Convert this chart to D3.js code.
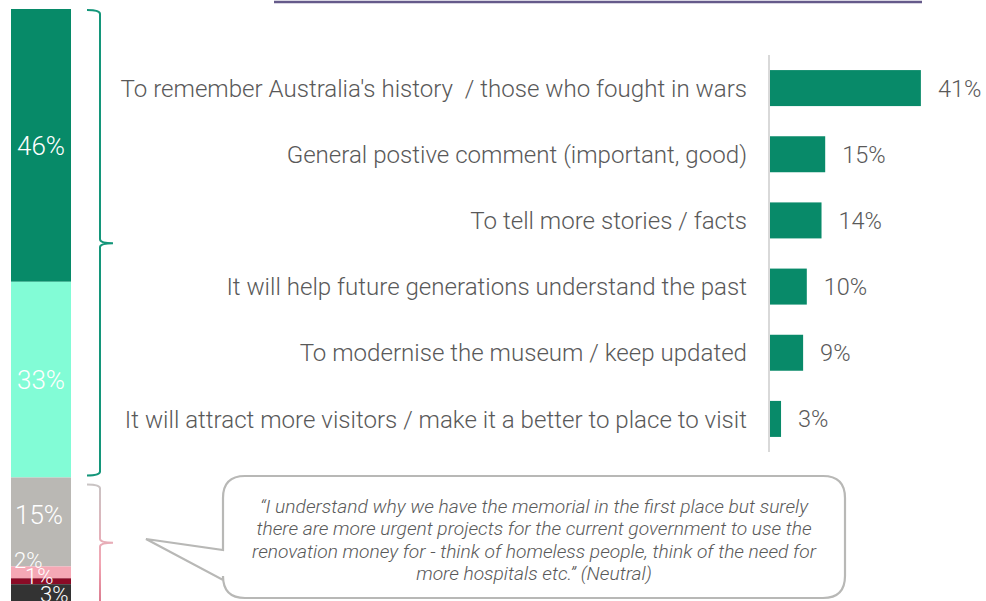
<!DOCTYPE html>
<html>
<head>
<meta charset="utf-8">
<script src="https://cdn.jsdelivr.net/npm/d3@7"></script>
<style>
  body { margin: 0; background: #fff; }
  svg { display: block; font-family: Roboto, "Open Sans", sans-serif; }
</style>
</head>
<body>
<svg id="chart" width="986" height="601"></svg>
<script>
// stacked sentiment bar (left)
var sentiment = ["Positive", "Somewhat positive", "Neutral", "Somewhat negative", "Negative", "Unsure"];
var sentimentValues = [46, 33, 15, 2, 1, 3];
var sentimentColors = ["#078a68", "#82fcd6", "#bab8b4", "#f5a8b5", "#8a0b26", "#333333"];

// reasons (right)
var reasons = [
  "To remember Australia's history  / those who fought in wars",
  "General postive comment (important, good)",
  "To tell more stories / facts",
  "It will help future generations understand the past",
  "To modernise the museum / keep updated",
  "It will attract more visitors / make it a better to place to visit"
];
var reasonValues = [41, 15, 14, 10, 9, 3];

var quoteLines = [
  "\u201cI understand why we have the memorial in the first place but surely",
  "there are more urgent projects for the current government to use the",
  "renovation money for - think of homeless people, think of the need for",
  "more hospitals etc.\u201d (Neutral)"
];

var svg = d3.select("#chart");
var grey = "#595959";

// top rule
svg.append("line")
    .attr("x1", 274).attr("x2", 922)
    .attr("y1", 2).attr("y2", 2)
    .attr("stroke", "#655a8a")
    .attr("stroke-width", 2.5);

// ---- stacked bar
var y = d3.scaleLinear().domain([0, 100]).range([9, 602]);
var stack = [];
var acc = 0;
sentimentValues.forEach(function(v, i) {
    stack.push({ key: sentiment[i], v: v, y0: acc, y1: acc + v, color: sentimentColors[i] });
    acc += v;
});

var sg = svg.append("g").attr("class", "stack");
sg.selectAll("rect")
    .data(stack)
    .enter().append("rect")
    .attr("x", 11)
    .attr("width", 60)
    .attr("y", function(d) { return y(d.y0); })
    .attr("height", function(d) { return y(d.y1) - y(d.y0); })
    .attr("fill", function(d) { return d.color; });

// label nudges, the tiny segments overlap like the original
var lx = [17, 17, 15, 14, 25, 40];
var ldy = [0, 0, -7, -12, -5, 1];
sg.selectAll("text")
    .data(stack)
    .enter().append("text")
    .attr("x", function(d, i) { return lx[i]; })
    .attr("y", function(d, i) { return (y(d.y0) + y(d.y1)) / 2 + ldy[i]; })
    .attr("dy", "0.36em")
    .attr("fill", "#fff")
    .attr("font-weight", 300)
    .attr("font-size", function(d) { return d.v >= 10 ? 26 : 22; })
    .text(function(d) { return d.v + "%"; });

// ---- brackets
var defs = svg.append("defs");
var grad = defs.append("linearGradient")
    .attr("id", "pinkGrad")
    .attr("x1", 0).attr("y1", 0).attr("x2", 0).attr("y2", 1)
    .attr("gradientUnits", "objectBoundingBox");
grad.append("stop").attr("offset", "0%").attr("stop-color", "#c9c4c4");
grad.append("stop").attr("offset", "50%").attr("stop-color", "#f2a5b3");
grad.append("stop").attr("offset", "100%").attr("stop-color", "#c2506a");

function bracket(top, bottom, mid) {
    var p = d3.path();
    p.moveTo(87, top);
    p.quadraticCurveTo(100, top, 100, top + 4);
    p.lineTo(100, mid - 4);
    p.quadraticCurveTo(100, mid, 113, mid);
    p.moveTo(113, mid);
    p.quadraticCurveTo(100, mid, 100, mid + 4);
    p.lineTo(100, bottom - 4);
    p.quadraticCurveTo(100, bottom, 87, bottom);
    return p.toString();
}

svg.append("path")
    .attr("d", bracket(y(0) + 1, y(79) - 2, y(39.5)))
    .attr("fill", "none")
    .attr("stroke", "#14967a")
    .attr("stroke-width", 2);

svg.append("path")
    .attr("d", bracket(y(80) + 1, y(100) + 40, y(90)))
    .attr("fill", "none")
    .attr("stroke", "url(#pinkGrad)")
    .attr("stroke-width", 2);

// ---- horizontal bars
var band = d3.scaleBand()
    .domain(reasons)
    .range([55, 452])
    .paddingInner(0.456)
    .paddingOuter(0.228);
var x = d3.scaleLinear().domain([0, 100]).range([770, 770 + 368]);

var bg = svg.append("g").attr("class", "bars");
bg.selectAll("rect")
    .data(reasons)
    .enter().append("rect")
    .attr("x", x(0))
    .attr("y", function(d) { return band(d); })
    .attr("height", band.bandwidth())
    .attr("width", function(d, i) { return x(reasonValues[i]) - x(0); })
    .attr("fill", "#088a69");

bg.append("line")
    .attr("x1", 769).attr("x2", 769)
    .attr("y1", 55).attr("y2", 452)
    .attr("stroke", "#d9d9d9")
    .attr("stroke-width", 2);

bg.selectAll("text.cat")
    .data(reasons)
    .enter().append("text")
    .attr("class", "cat")
    .attr("x", 747)
    .attr("y", function(d) { return band(d) + band.bandwidth() / 2; })
    .attr("dy", "0.36em")
    .attr("text-anchor", "end")
    .attr("fill", grey)
    .attr("font-weight", 300)
    .attr("font-size", 24.1)
    .style("white-space", "pre")
    .text(function(d) { return d; });

bg.selectAll("text.val")
    .data(reasons)
    .enter().append("text")
    .attr("class", "val")
    .attr("x", function(d, i) { return x(reasonValues[i]) + 17; })
    .attr("y", function(d) { return band(d) + band.bandwidth() / 2; })
    .attr("dy", "0.36em")
    .attr("fill", grey)
    .attr("font-weight", 300)
    .attr("font-size", 23.5)
    .text(function(d, i) { return reasonValues[i] + "%"; });

// ---- quote callout
var c = { l: 223, r: 845, t: 476, b: 598, rad: 22 };
var q = d3.path();
q.moveTo(c.l + c.rad, c.t);
q.lineTo(c.r - c.rad, c.t);
q.quadraticCurveTo(c.r, c.t, c.r, c.t + c.rad);
q.lineTo(c.r, c.b - c.rad);
q.quadraticCurveTo(c.r, c.b, c.r - c.rad, c.b);
q.lineTo(c.l + c.rad, c.b);
q.quadraticCurveTo(c.l, c.b, c.l, c.b - c.rad);
q.lineTo(c.l, 580);
q.lineTo(146, 539);
q.lineTo(c.l, 550);
q.lineTo(c.l, c.t + c.rad);
q.quadraticCurveTo(c.l, c.t, c.l + c.rad, c.t);
q.closePath();

svg.append("path")
    .attr("d", q.toString())
    .attr("fill", "#fff")
    .attr("stroke", "#b8b8b6")
    .attr("stroke-width", 2.2);

svg.append("g").selectAll("text")
    .data(quoteLines)
    .enter().append("text")
    .attr("x", 534)
    .attr("y", function(d, i) { return 513 + i * 22.3; })
    .attr("text-anchor", "middle")
    .attr("fill", grey)
    .attr("font-style", "italic")
    .attr("font-weight", 300)
    .attr("font-size", 19.2)
    .text(function(d) { return d; });
</script>
</body>
</html>
